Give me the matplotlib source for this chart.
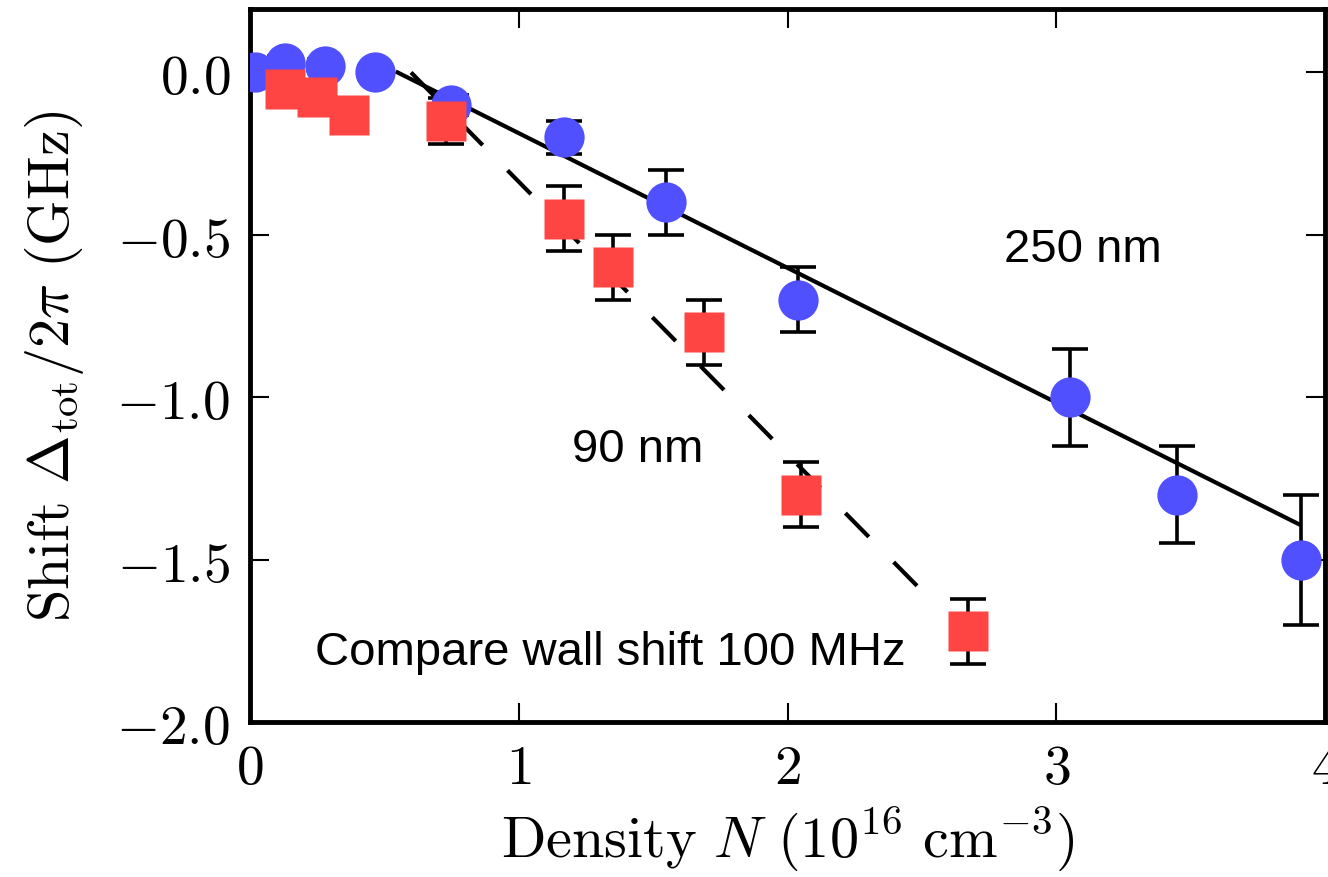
import numpy as np
import matplotlib
matplotlib.use("Agg")
import matplotlib.pyplot as plt

plt.rcParams['mathtext.fontset'] = 'cm'

# 250 nm cell (blue circles)
x_250 = [0.02, 0.13, 0.28, 0.465, 0.75, 1.17, 1.55, 2.04, 3.05, 3.45, 3.91]
y_250 = [0.0, 0.03, 0.02, 0.0, -0.1, -0.2, -0.4, -0.7, -1.0, -1.3, -1.5]
e_250 = [0.02, 0.02, 0.02, 0.02, 0.03, 0.05, 0.1, 0.1, 0.15, 0.15, 0.2]

# 90 nm cell (red squares)
x_90 = [0.13, 0.25, 0.37, 0.73, 1.17, 1.35, 1.69, 2.05, 2.67]
y_90 = [-0.05, -0.075, -0.13, -0.15, -0.45, -0.6, -0.8, -1.3, -1.72]
e_90 = [0.02, 0.02, 0.02, 0.07, 0.1, 0.1, 0.1, 0.1, 0.1]

# linear fits: (x0, slope, x_start, x_end)
fit_250 = (0.55, -0.415, 0.55, 3.9)
fit_90 = (0.6, -0.84, 0.6, 2.55)

xticks = [0, 1, 2, 3, 4]
xticklabels = ['$0$', '$1$', '$2$', '$3$', '$4$']
yticks = [0.0, -0.5, -1.0, -1.5, -2.0]
yticklabels = ['$0.0$', '$-0.5$', '$-1.0$', '$-1.5$', '$-2.0$']

blue = '#5050ff'
red = '#ff4444'

fig = plt.figure(figsize=(13.28, 8.78), dpi=100)
ax = fig.add_axes([0.188, 0.1765, 0.81, 0.812])

# fit lines
xs = np.array(fit_250[2:])
ax.plot(xs, fit_250[1] * (xs - fit_250[0]), color='black', lw=3, zorder=2)
xs = np.array(fit_90[2:])
ax.plot(xs, fit_90[1] * (xs - fit_90[0]), color='black', lw=3,
        dashes=(8, 8.5), zorder=2)

# error bars below markers
ax.errorbar(x_250, y_250, yerr=e_250, fmt='none', ecolor='black',
            elinewidth=2.6, capsize=13, capthick=2.6, zorder=3)
ax.errorbar(x_90, y_90, yerr=e_90, fmt='none', ecolor='black',
            elinewidth=2.6, capsize=13, capthick=2.6, zorder=3)
ax.plot(x_250, y_250, 'o', color=blue, ms=29, mec='none', zorder=4)
ax.plot(x_90, y_90, 's', color=red, ms=28.5, mec='none', zorder=5)

txt = dict(fontsize=34, family='Liberation Sans', color='black', va='baseline')
ax.text(3.1, -0.5815, '250 nm', ha='center', **txt)
ax.text(1.2, -1.197, '90 nm', ha='left', **txt)
ax.text(0.242, -1.8215, 'Compare wall shift 100 MHz', ha='left', **txt)

ax.set_xlim(0, 4)
ax.set_ylim(-2.0, 0.195)
ax.set_xticks(xticks)
ax.set_xticklabels(xticklabels)
ax.set_yticks(yticks)
ax.set_yticklabels(yticklabels)
ax.tick_params(direction='in', top=True, right=True, length=14, width=1.5,
               labelsize=40, pad=14)
for s in ax.spines.values():
    s.set_linewidth(3.5)

ax.set_xlabel(r'$\mathrm{Density}\ N\ (10^{16}\ \mathrm{cm}^{-3})$', fontsize=42, labelpad=6)
ax.set_ylabel(r'$\mathrm{Shift}\ \Delta_{\mathrm{tot}}/2\pi\ (\mathrm{GHz})$', fontsize=42, labelpad=22)

fig.savefig('out.png', dpi=100)
